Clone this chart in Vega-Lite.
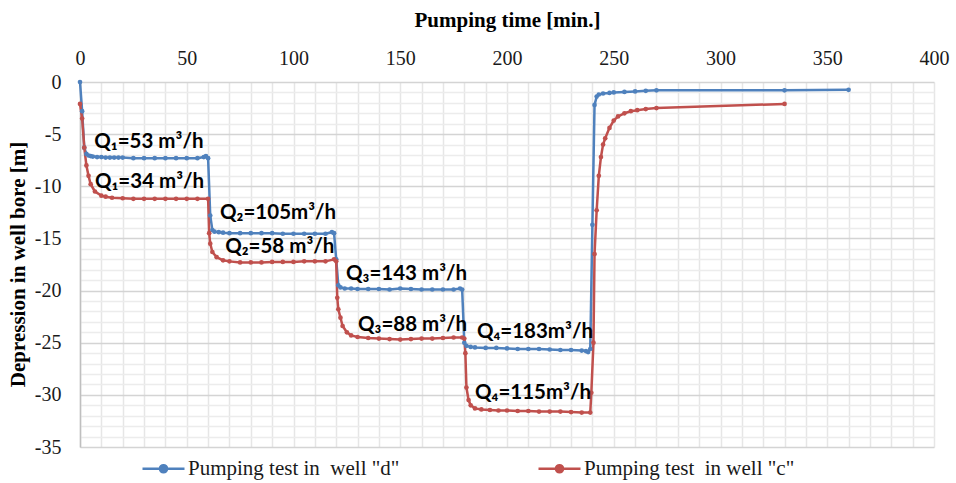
{
  "$schema": "https://vega.github.io/schema/vega-lite/v6.json",
  "width": 854,
  "height": 365,
  "autosize": {"type": "none"},
  "padding": {"left": 80, "top": 82, "right": 22, "bottom": 36},
  "background": "white",
  "config": {
    "view": {"stroke": null},
    "font": "Liberation Serif",
    "axis": {"labelOverlap": false}
  },
  "datasets": {
    "series": [
      {"s": "Pumping test in\u00a0 well \"d\"", "t": 0, "d": 0},
      {"s": "Pumping test in\u00a0 well \"d\"", "t": 1, "d": -2.8},
      {"s": "Pumping test in\u00a0 well \"d\"", "t": 2, "d": -6.3},
      {"s": "Pumping test in\u00a0 well \"d\"", "t": 3, "d": -6.9},
      {"s": "Pumping test in\u00a0 well \"d\"", "t": 4, "d": -7.05},
      {"s": "Pumping test in\u00a0 well \"d\"", "t": 5, "d": -7.1},
      {"s": "Pumping test in\u00a0 well \"d\"", "t": 6, "d": -7.15},
      {"s": "Pumping test in\u00a0 well \"d\"", "t": 8, "d": -7.2},
      {"s": "Pumping test in\u00a0 well \"d\"", "t": 10, "d": -7.2},
      {"s": "Pumping test in\u00a0 well \"d\"", "t": 12, "d": -7.25},
      {"s": "Pumping test in\u00a0 well \"d\"", "t": 14, "d": -7.25},
      {"s": "Pumping test in\u00a0 well \"d\"", "t": 16, "d": -7.25},
      {"s": "Pumping test in\u00a0 well \"d\"", "t": 18, "d": -7.25},
      {"s": "Pumping test in\u00a0 well \"d\"", "t": 20, "d": -7.25},
      {"s": "Pumping test in\u00a0 well \"d\"", "t": 25, "d": -7.3},
      {"s": "Pumping test in\u00a0 well \"d\"", "t": 30, "d": -7.3},
      {"s": "Pumping test in\u00a0 well \"d\"", "t": 35, "d": -7.3},
      {"s": "Pumping test in\u00a0 well \"d\"", "t": 40, "d": -7.3},
      {"s": "Pumping test in\u00a0 well \"d\"", "t": 45, "d": -7.3},
      {"s": "Pumping test in\u00a0 well \"d\"", "t": 50, "d": -7.3},
      {"s": "Pumping test in\u00a0 well \"d\"", "t": 55, "d": -7.3},
      {"s": "Pumping test in\u00a0 well \"d\"", "t": 58, "d": -7.2},
      {"s": "Pumping test in\u00a0 well \"d\"", "t": 59, "d": -7.1},
      {"s": "Pumping test in\u00a0 well \"d\"", "t": 60, "d": -7.3},
      {"s": "Pumping test in\u00a0 well \"d\"", "t": 61, "d": -12.8},
      {"s": "Pumping test in\u00a0 well \"d\"", "t": 62, "d": -14.2},
      {"s": "Pumping test in\u00a0 well \"d\"", "t": 63, "d": -14.35},
      {"s": "Pumping test in\u00a0 well \"d\"", "t": 65, "d": -14.4},
      {"s": "Pumping test in\u00a0 well \"d\"", "t": 67, "d": -14.45},
      {"s": "Pumping test in\u00a0 well \"d\"", "t": 70, "d": -14.5},
      {"s": "Pumping test in\u00a0 well \"d\"", "t": 75, "d": -14.5},
      {"s": "Pumping test in\u00a0 well \"d\"", "t": 80, "d": -14.5},
      {"s": "Pumping test in\u00a0 well \"d\"", "t": 85, "d": -14.5},
      {"s": "Pumping test in\u00a0 well \"d\"", "t": 90, "d": -14.5},
      {"s": "Pumping test in\u00a0 well \"d\"", "t": 95, "d": -14.55},
      {"s": "Pumping test in\u00a0 well \"d\"", "t": 100, "d": -14.55},
      {"s": "Pumping test in\u00a0 well \"d\"", "t": 105, "d": -14.55},
      {"s": "Pumping test in\u00a0 well \"d\"", "t": 110, "d": -14.55},
      {"s": "Pumping test in\u00a0 well \"d\"", "t": 115, "d": -14.55},
      {"s": "Pumping test in\u00a0 well \"d\"", "t": 118, "d": -14.4},
      {"s": "Pumping test in\u00a0 well \"d\"", "t": 119, "d": -14.5},
      {"s": "Pumping test in\u00a0 well \"d\"", "t": 120, "d": -17},
      {"s": "Pumping test in\u00a0 well \"d\"", "t": 121, "d": -19.5},
      {"s": "Pumping test in\u00a0 well \"d\"", "t": 122, "d": -19.7},
      {"s": "Pumping test in\u00a0 well \"d\"", "t": 124, "d": -19.8},
      {"s": "Pumping test in\u00a0 well \"d\"", "t": 127, "d": -19.8},
      {"s": "Pumping test in\u00a0 well \"d\"", "t": 130, "d": -19.85},
      {"s": "Pumping test in\u00a0 well \"d\"", "t": 135, "d": -19.85},
      {"s": "Pumping test in\u00a0 well \"d\"", "t": 140, "d": -19.85},
      {"s": "Pumping test in\u00a0 well \"d\"", "t": 145, "d": -19.9},
      {"s": "Pumping test in\u00a0 well \"d\"", "t": 150, "d": -19.8},
      {"s": "Pumping test in\u00a0 well \"d\"", "t": 155, "d": -19.85},
      {"s": "Pumping test in\u00a0 well \"d\"", "t": 160, "d": -19.9},
      {"s": "Pumping test in\u00a0 well \"d\"", "t": 165, "d": -19.9},
      {"s": "Pumping test in\u00a0 well \"d\"", "t": 170, "d": -19.9},
      {"s": "Pumping test in\u00a0 well \"d\"", "t": 175, "d": -19.9},
      {"s": "Pumping test in\u00a0 well \"d\"", "t": 178, "d": -19.8},
      {"s": "Pumping test in\u00a0 well \"d\"", "t": 179, "d": -19.9},
      {"s": "Pumping test in\u00a0 well \"d\"", "t": 180, "d": -25},
      {"s": "Pumping test in\u00a0 well \"d\"", "t": 181, "d": -25.3},
      {"s": "Pumping test in\u00a0 well \"d\"", "t": 183, "d": -25.4},
      {"s": "Pumping test in\u00a0 well \"d\"", "t": 185, "d": -25.45},
      {"s": "Pumping test in\u00a0 well \"d\"", "t": 190, "d": -25.5},
      {"s": "Pumping test in\u00a0 well \"d\"", "t": 195, "d": -25.5},
      {"s": "Pumping test in\u00a0 well \"d\"", "t": 200, "d": -25.55},
      {"s": "Pumping test in\u00a0 well \"d\"", "t": 205, "d": -25.6},
      {"s": "Pumping test in\u00a0 well \"d\"", "t": 210, "d": -25.6},
      {"s": "Pumping test in\u00a0 well \"d\"", "t": 215, "d": -25.6},
      {"s": "Pumping test in\u00a0 well \"d\"", "t": 220, "d": -25.65},
      {"s": "Pumping test in\u00a0 well \"d\"", "t": 225, "d": -25.7},
      {"s": "Pumping test in\u00a0 well \"d\"", "t": 230, "d": -25.7},
      {"s": "Pumping test in\u00a0 well \"d\"", "t": 235, "d": -25.75},
      {"s": "Pumping test in\u00a0 well \"d\"", "t": 237, "d": -25.8},
      {"s": "Pumping test in\u00a0 well \"d\"", "t": 238, "d": -25.9},
      {"s": "Pumping test in\u00a0 well \"d\"", "t": 239, "d": -25.6},
      {"s": "Pumping test in\u00a0 well \"d\"", "t": 240, "d": -13.7},
      {"s": "Pumping test in\u00a0 well \"d\"", "t": 241, "d": -2.2},
      {"s": "Pumping test in\u00a0 well \"d\"", "t": 242, "d": -1.4},
      {"s": "Pumping test in\u00a0 well \"d\"", "t": 243, "d": -1.2},
      {"s": "Pumping test in\u00a0 well \"d\"", "t": 245, "d": -1.1},
      {"s": "Pumping test in\u00a0 well \"d\"", "t": 248, "d": -1.05},
      {"s": "Pumping test in\u00a0 well \"d\"", "t": 250, "d": -1.0},
      {"s": "Pumping test in\u00a0 well \"d\"", "t": 255, "d": -0.95},
      {"s": "Pumping test in\u00a0 well \"d\"", "t": 260, "d": -0.9},
      {"s": "Pumping test in\u00a0 well \"d\"", "t": 265, "d": -0.85},
      {"s": "Pumping test in\u00a0 well \"d\"", "t": 270, "d": -0.8},
      {"s": "Pumping test in\u00a0 well \"d\"", "t": 330, "d": -0.8},
      {"s": "Pumping test in\u00a0 well \"d\"", "t": 360, "d": -0.75},
      {"s": "Pumping test\u00a0 in well \"c\"", "t": 0, "d": -2.1},
      {"s": "Pumping test\u00a0 in well \"c\"", "t": 1, "d": -3.5},
      {"s": "Pumping test\u00a0 in well \"c\"", "t": 2, "d": -6.3},
      {"s": "Pumping test\u00a0 in well \"c\"", "t": 3, "d": -8.0},
      {"s": "Pumping test\u00a0 in well \"c\"", "t": 4, "d": -9.0},
      {"s": "Pumping test\u00a0 in well \"c\"", "t": 5, "d": -9.8},
      {"s": "Pumping test\u00a0 in well \"c\"", "t": 7, "d": -10.5},
      {"s": "Pumping test\u00a0 in well \"c\"", "t": 10, "d": -10.9},
      {"s": "Pumping test\u00a0 in well \"c\"", "t": 12, "d": -11.0},
      {"s": "Pumping test\u00a0 in well \"c\"", "t": 15, "d": -11.1},
      {"s": "Pumping test\u00a0 in well \"c\"", "t": 20, "d": -11.15},
      {"s": "Pumping test\u00a0 in well \"c\"", "t": 25, "d": -11.2},
      {"s": "Pumping test\u00a0 in well \"c\"", "t": 30, "d": -11.2},
      {"s": "Pumping test\u00a0 in well \"c\"", "t": 35, "d": -11.2},
      {"s": "Pumping test\u00a0 in well \"c\"", "t": 40, "d": -11.2},
      {"s": "Pumping test\u00a0 in well \"c\"", "t": 45, "d": -11.2},
      {"s": "Pumping test\u00a0 in well \"c\"", "t": 50, "d": -11.2},
      {"s": "Pumping test\u00a0 in well \"c\"", "t": 55, "d": -11.2},
      {"s": "Pumping test\u00a0 in well \"c\"", "t": 60, "d": -11.2},
      {"s": "Pumping test\u00a0 in well \"c\"", "t": 60.5, "d": -14.5},
      {"s": "Pumping test\u00a0 in well \"c\"", "t": 61, "d": -15.5},
      {"s": "Pumping test\u00a0 in well \"c\"", "t": 62, "d": -16.3},
      {"s": "Pumping test\u00a0 in well \"c\"", "t": 64, "d": -16.8},
      {"s": "Pumping test\u00a0 in well \"c\"", "t": 67, "d": -17.1},
      {"s": "Pumping test\u00a0 in well \"c\"", "t": 70, "d": -17.2},
      {"s": "Pumping test\u00a0 in well \"c\"", "t": 75, "d": -17.3},
      {"s": "Pumping test\u00a0 in well \"c\"", "t": 80, "d": -17.3},
      {"s": "Pumping test\u00a0 in well \"c\"", "t": 85, "d": -17.3},
      {"s": "Pumping test\u00a0 in well \"c\"", "t": 90, "d": -17.25},
      {"s": "Pumping test\u00a0 in well \"c\"", "t": 95, "d": -17.25},
      {"s": "Pumping test\u00a0 in well \"c\"", "t": 100, "d": -17.25},
      {"s": "Pumping test\u00a0 in well \"c\"", "t": 105, "d": -17.2},
      {"s": "Pumping test\u00a0 in well \"c\"", "t": 110, "d": -17.2},
      {"s": "Pumping test\u00a0 in well \"c\"", "t": 115, "d": -17.2},
      {"s": "Pumping test\u00a0 in well \"c\"", "t": 119, "d": -17.0},
      {"s": "Pumping test\u00a0 in well \"c\"", "t": 120, "d": -17.2},
      {"s": "Pumping test\u00a0 in well \"c\"", "t": 120.5, "d": -20.7},
      {"s": "Pumping test\u00a0 in well \"c\"", "t": 121, "d": -21.8},
      {"s": "Pumping test\u00a0 in well \"c\"", "t": 122, "d": -22.6},
      {"s": "Pumping test\u00a0 in well \"c\"", "t": 123, "d": -23.4},
      {"s": "Pumping test\u00a0 in well \"c\"", "t": 125, "d": -24.0},
      {"s": "Pumping test\u00a0 in well \"c\"", "t": 127, "d": -24.3},
      {"s": "Pumping test\u00a0 in well \"c\"", "t": 130, "d": -24.45},
      {"s": "Pumping test\u00a0 in well \"c\"", "t": 135, "d": -24.55},
      {"s": "Pumping test\u00a0 in well \"c\"", "t": 140, "d": -24.6},
      {"s": "Pumping test\u00a0 in well \"c\"", "t": 145, "d": -24.65},
      {"s": "Pumping test\u00a0 in well \"c\"", "t": 150, "d": -24.7},
      {"s": "Pumping test\u00a0 in well \"c\"", "t": 155, "d": -24.65},
      {"s": "Pumping test\u00a0 in well \"c\"", "t": 160, "d": -24.6},
      {"s": "Pumping test\u00a0 in well \"c\"", "t": 165, "d": -24.6},
      {"s": "Pumping test\u00a0 in well \"c\"", "t": 170, "d": -24.55},
      {"s": "Pumping test\u00a0 in well \"c\"", "t": 175, "d": -24.5},
      {"s": "Pumping test\u00a0 in well \"c\"", "t": 179, "d": -24.5},
      {"s": "Pumping test\u00a0 in well \"c\"", "t": 180, "d": -24.6},
      {"s": "Pumping test\u00a0 in well \"c\"", "t": 180.5, "d": -26.0},
      {"s": "Pumping test\u00a0 in well \"c\"", "t": 181, "d": -29.3},
      {"s": "Pumping test\u00a0 in well \"c\"", "t": 182, "d": -30.5},
      {"s": "Pumping test\u00a0 in well \"c\"", "t": 183, "d": -31.0},
      {"s": "Pumping test\u00a0 in well \"c\"", "t": 185, "d": -31.3},
      {"s": "Pumping test\u00a0 in well \"c\"", "t": 188, "d": -31.4},
      {"s": "Pumping test\u00a0 in well \"c\"", "t": 192, "d": -31.45},
      {"s": "Pumping test\u00a0 in well \"c\"", "t": 196, "d": -31.5},
      {"s": "Pumping test\u00a0 in well \"c\"", "t": 200, "d": -31.5},
      {"s": "Pumping test\u00a0 in well \"c\"", "t": 205, "d": -31.55},
      {"s": "Pumping test\u00a0 in well \"c\"", "t": 210, "d": -31.55},
      {"s": "Pumping test\u00a0 in well \"c\"", "t": 215, "d": -31.6},
      {"s": "Pumping test\u00a0 in well \"c\"", "t": 220, "d": -31.6},
      {"s": "Pumping test\u00a0 in well \"c\"", "t": 225, "d": -31.6},
      {"s": "Pumping test\u00a0 in well \"c\"", "t": 230, "d": -31.65},
      {"s": "Pumping test\u00a0 in well \"c\"", "t": 235, "d": -31.7},
      {"s": "Pumping test\u00a0 in well \"c\"", "t": 239, "d": -31.7},
      {"s": "Pumping test\u00a0 in well \"c\"", "t": 239.5, "d": -29.8},
      {"s": "Pumping test\u00a0 in well \"c\"", "t": 240.5, "d": -25.0},
      {"s": "Pumping test\u00a0 in well \"c\"", "t": 241, "d": -16.5},
      {"s": "Pumping test\u00a0 in well \"c\"", "t": 242, "d": -12.3},
      {"s": "Pumping test\u00a0 in well \"c\"", "t": 243, "d": -9.0},
      {"s": "Pumping test\u00a0 in well \"c\"", "t": 244, "d": -7.2},
      {"s": "Pumping test\u00a0 in well \"c\"", "t": 245, "d": -6.0},
      {"s": "Pumping test\u00a0 in well \"c\"", "t": 246, "d": -5.4},
      {"s": "Pumping test\u00a0 in well \"c\"", "t": 248, "d": -4.4},
      {"s": "Pumping test\u00a0 in well \"c\"", "t": 250, "d": -3.7},
      {"s": "Pumping test\u00a0 in well \"c\"", "t": 252, "d": -3.3},
      {"s": "Pumping test\u00a0 in well \"c\"", "t": 255, "d": -3.0},
      {"s": "Pumping test\u00a0 in well \"c\"", "t": 258, "d": -2.8},
      {"s": "Pumping test\u00a0 in well \"c\"", "t": 261, "d": -2.7},
      {"s": "Pumping test\u00a0 in well \"c\"", "t": 265, "d": -2.6},
      {"s": "Pumping test\u00a0 in well \"c\"", "t": 270, "d": -2.5},
      {"s": "Pumping test\u00a0 in well \"c\"", "t": 330, "d": -2.1}
    ],
    "notes": [
      {"t": 6.7, "d": -5.73, "label": "Q₁=53 m³/h"},
      {"t": 7.0, "d": -9.56, "label": "Q₁=34 m³/h"},
      {"t": 65.6, "d": -12.59, "label": "Q₂=105m³/h"},
      {"t": 68.0, "d": -15.85, "label": "Q₂=58 m³/h"},
      {"t": 124.6, "d": -18.4, "label": "Q₃=143 m³/h"},
      {"t": 130.2, "d": -23.3, "label": "Q₃=88 m³/h"},
      {"t": 185.9, "d": -23.96, "label": "Q₄=183m³/h"},
      {"t": 185.0, "d": -29.8, "label": "Q₄=115m³/h"}
    ]
  },
  "data": {"name": "series"},
  "encoding": {
    "x": {
      "field": "t", "type": "quantitative",
      "scale": {"domain": [0, 400], "nice": false, "zero": false},
      "axis": {
        "orient": "top",
        "title": "Pumping time [min.]",
        "titleFont": "Liberation Serif", "titleFontSize": 21, "titleFontWeight": "bold", "titleColor": "#000000",
        "titleBaseline": "middle", "titleY": -62,
        "values": [0,10,20,30,40,50,60,70,80,90,100,110,120,130,140,150,160,170,180,190,200,210,220,230,240,250,260,270,280,290,300,310,320,330,340,350,360,370,380,390,400],
        "labelExpr": "datum.value % 50 == 0 ? '' + datum.value : ''",
        "labelFont": "Liberation Serif", "labelFontSize": 20, "labelColor": "#1a1a1a",
        "labelPadding": 14, "labelFlush": false, "labelOverlap": false,
        "ticks": false, "domain": false,
        "grid": true, "gridColor": "#e6e6e6", "gridWidth": 1.5
      }
    },
    "y": {
      "field": "d", "type": "quantitative",
      "scale": {"domain": [-35, 0], "nice": false, "zero": false},
      "axis": {
        "title": "Depression in well bore [m]",
        "titleFont": "Liberation Serif", "titleFontSize": 21, "titleFontWeight": "bold", "titleColor": "#000000",
        "titleX": -62, "titleY": 182, "titleAngle": -90, "titleBaseline": "middle", "titleAlign": "center",
        "values": [-35,-34,-33,-32,-31,-30,-29,-28,-27,-26,-25,-24,-23,-22,-21,-20,-19,-18,-17,-16,-15,-14,-13,-12,-11,-10,-9,-8,-7,-6,-5,-4,-3,-2,-1,0],
        "labelExpr": "datum.value % 5 == 0 ? '' + datum.value : ''",
        "labelFont": "Liberation Serif", "labelFontSize": 20, "labelColor": "#1a1a1a",
        "labelPadding": 19, "labelFlush": false, "labelOverlap": false,
        "ticks": false, "domain": true, "domainColor": "#bfbfbf", "domainWidth": 1.5,
        "grid": true, "gridWidth": 1.5,
        "gridColor": {"condition": {"test": "datum.value % 5 == 0", "value": "#d4d4d4"}, "value": "#ececec"}
      }
    },
    "color": {
      "field": "s", "type": "nominal",
      "scale": {"domain": ["Pumping test in\u00a0 well \"d\"", "Pumping test\u00a0 in well \"c\""], "range": ["#4F81BD", "#C0504D"]},
      "legend": {
        "orient": "none", "legendX": 61, "legendY": 364,
        "direction": "horizontal", "columns": 2, "columnPadding": 133,
        "title": null,
        "labelFont": "Liberation Serif", "labelFontSize": 21, "labelColor": "#1a1a1a",
        "labelOffset": 2, "labelLimit": 400,
        "symbolType": "M-1,0H1M0.17,0A0.17,0.17 0 1 1 -0.17,0A0.17,0.17 0 1 1 0.17,0Z",
        "symbolSize": 1764, "symbolStrokeWidth": 2.5,
        "encode": {"symbols": {"update": {"fill": {"scale": "color", "field": "value"}}}}
      }
    }
  },
  "layer": [
    {
      "mark": {"type": "line", "strokeWidth": 2.5, "interpolate": "linear"}
    },
    {
      "mark": {"type": "point", "filled": true, "size": 22, "opacity": 1}
    },
    {
      "data": {"name": "notes"},
      "mark": {"type": "text", "align": "left", "baseline": "middle", "font": "Lato", "fontWeight": "bold", "fontSize": 20.5},
      "encoding": {
        "text": {"field": "label"},
        "color": {"value": "#000000"}
      }
    }
  ]
}
